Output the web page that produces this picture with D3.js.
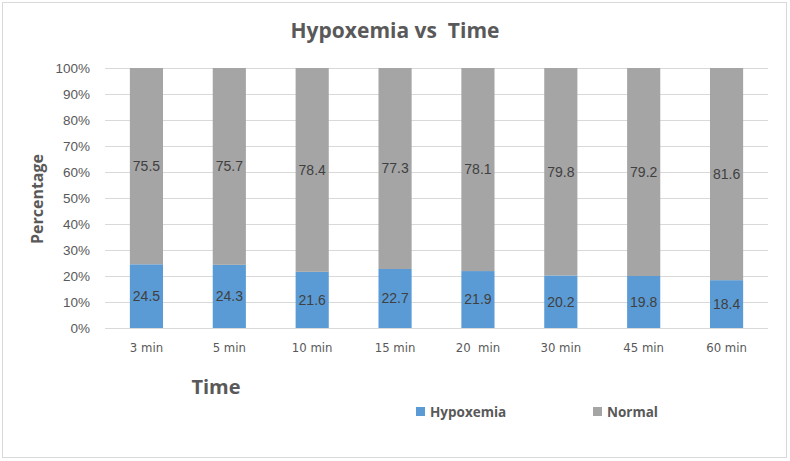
<!DOCTYPE html>
<html>
<head>
<meta charset="utf-8">
<script src="https://cdn.jsdelivr.net/npm/d3@7"></script>
<style>
  body { margin: 0; background: #fff; }
  svg { display: block; }
  text { font-family: "Liberation Sans Narrow", "DejaVu Sans Condensed", "Liberation Sans", Arial, sans-serif; }
</style>
</head>
<body>
<div id="chart"></div>
<script>
// chart data
var categories = ["3 min", "5 min", "10 min", "15 min", "20  min", "30 min", "45 min", "60 min"];
var hypoxemia = [24.5, 24.3, 21.6, 22.7, 21.9, 20.2, 19.8, 18.4];
var normal = [75.5, 75.7, 78.4, 77.3, 78.1, 79.8, 79.2, 81.6];
var seriesNames = ["Hypoxemia", "Normal"];
var seriesColors = ["#5b9bd5", "#a5a5a5"];
var yTicks = [0, 10, 20, 30, 40, 50, 60, 70, 80, 90, 100];

var width = 790, height = 461;
var plotLeft = 105, plotRight = 768, plotTop = 68, plotBottom = 328;

var svg = d3.select("#chart").append("svg")
  .attr("width", width)
  .attr("height", height);

// outer frame
svg.append("rect")
  .attr("x", 2.5).attr("y", 2.5)
  .attr("width", 784).attr("height", 455)
  .attr("fill", "#fff")
  .attr("stroke", "#d9d9d9");

var x = d3.scaleBand().domain(categories).range([plotLeft, plotRight]).paddingInner(0.6).paddingOuter(0.3);
var y = d3.scaleLinear().domain([0, 100]).range([plotBottom, plotTop]);

// stacked rows, one per category
var rows = categories.map(function(c, i) {
  return { cat: c, Hypoxemia: hypoxemia[i], Normal: normal[i] };
});
var stack = d3.stack().keys(seriesNames).offset(d3.stackOffsetExpand);
var layers = stack(rows);

// gridlines
svg.append("g")
  .selectAll("line")
  .data(yTicks)
  .enter()
  .append("line")
    .attr("x1", plotLeft).attr("x2", plotRight)
    .attr("y1", function(d) { return Math.round(y(d)) + 0.5; })
    .attr("y2", function(d) { return Math.round(y(d)) + 0.5; })
    .attr("stroke", "#d9d9d9")
    .attr("stroke-width", 1);

// y axis labels
var yAxis = d3.axisLeft(y).tickValues(yTicks).tickSize(0).tickPadding(15)
  .tickFormat(function(d) { return d + "%"; });
var yg = svg.append("g").attr("transform", "translate(" + plotLeft + ",0)").call(yAxis);
yg.select(".domain").remove();
yg.selectAll("text").attr("fill", "#595959").style("font-size", "13.5px")
  .style("font-family", "'Liberation Sans', Arial, sans-serif");

// bars
var groups = svg.append("g")
  .selectAll("g")
  .data(layers)
  .enter()
  .append("g")
    .attr("fill", function(d, i) { return seriesColors[i]; });

groups.selectAll("rect")
  .data(function(d) { return d; })
  .enter()
  .append("rect")
    .attr("x", function(d) { return x(d.data.cat); })
    .attr("width", x.bandwidth())
    .attr("y", function(d) { return y(d[1] * 100); })
    .attr("height", function(d) { return y(d[0] * 100) - y(d[1] * 100); });

// data labels
groups.selectAll("text")
  .data(function(d) { return d.map(function(p) { p.key = d.key; return p; }); })
  .enter()
  .append("text")
    .attr("x", function(d) { return x(d.data.cat) + x.bandwidth() / 2; })
    .attr("y", function(d) { return y((d[0] + d[1]) * 50); })
    .attr("dy", "0.35em")
    .attr("text-anchor", "middle")
    .attr("fill", "#404040")
    .style("font-size", "14px")
    .style("font-family", "'Liberation Sans', Arial, sans-serif")
    .text(function(d) { return d.data[d.key]; });

// x axis
var xAxis = d3.axisBottom(x).tickSize(0).tickPadding(15);
var xg = svg.append("g").attr("transform", "translate(0," + plotBottom + ")").call(xAxis);
xg.select(".domain").remove();
xg.selectAll("text").attr("fill", "#595959").style("font-size", "13px")
  .style("white-space", "pre");

// titles
svg.append("text")
  .attr("x", 395).attr("y", 38)
  .attr("text-anchor", "middle")
  .attr("fill", "#595959")
  .style("font-size", "21px").style("font-weight", "bold")
  .style("font-family", "'Open Sans', 'Liberation Sans', Arial, sans-serif")
  .style("white-space", "pre")
  .text("Hypoxemia vs  Time");

svg.append("text")
  .attr("transform", "translate(43,199) rotate(-90)")
  .attr("text-anchor", "middle")
  .attr("fill", "#595959")
  .style("font-size", "16px").style("font-weight", "bold")
  .style("font-family", "'Open Sans', 'Liberation Sans', Arial, sans-serif")
  .text("Percentage");

svg.append("text")
  .attr("x", 216).attr("y", 394)
  .attr("text-anchor", "middle")
  .attr("fill", "#595959")
  .style("font-size", "20px").style("font-weight", "bold")
  .style("font-family", "'Open Sans', 'Liberation Sans', Arial, sans-serif")
  .text("Time");

// legend
var legendX = [416, 593];
var legend = svg.append("g")
  .selectAll("g")
  .data(seriesNames)
  .enter()
  .append("g")
    .attr("transform", function(d, i) { return "translate(" + legendX[i] + ",407)"; });

legend.append("rect")
  .attr("width", 9).attr("height", 9)
  .attr("fill", function(d, i) { return seriesColors[i]; });

legend.append("text")
  .attr("x", 14).attr("y", 5)
  .attr("dy", "0.35em")
  .attr("fill", "#595959")
  .style("font-size", "13.5px").style("font-weight", "bold")
  .style("font-family", "'Open Sans', 'Liberation Sans', Arial, sans-serif")
  .text(function(d) { return d; });
</script>
</body>
</html>
